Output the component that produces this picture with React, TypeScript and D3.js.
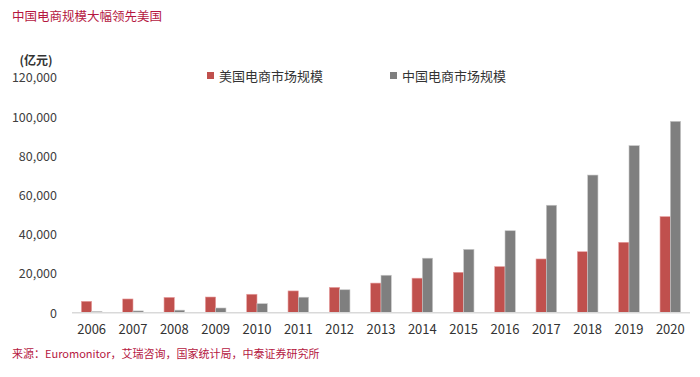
import React from "react";
import * as d3 from "d3";

const years = ["2006","2007","2008","2009","2010","2011","2012","2013","2014","2015","2016","2017","2018","2019","2020"];
const usValues = [5600, 6800, 7600, 7800, 9200, 10900, 12700, 14900, 17400, 20400, 23300, 27200, 30900, 35700, 48800];
const cnValues = [400, 700, 1100, 2200, 4400, 7700, 11500, 18900, 27600, 32100, 41600, 54600, 70000, 85000, 97400];
const yTicks = [0, 20000, 40000, 60000, 80000, 100000, 120000];
const seriesNames = ["美国电商市场规模", "中国电商市场规模"];
const colors = ["#c0504d", "#7f7f7f"];

const W = 700, H = 377;
const font = "'Noto Sans CJK SC', 'Noto Sans', sans-serif";

export default function App() {
  const x = d3.scaleBand<string>().domain(years).range([71, 691]).paddingInner(0.5).paddingOuter(0.25);
  const y = d3.scaleLinear().domain([0, 120000]).range([312.3, 77]);
  const bw = 10.3;
  const fmt = d3.format(",");
  return (
    <svg width={W} height={H} style={{ position: "absolute", left: 0, top: 0, background: "#fff" }} fontFamily={font}>
      <text x={12} y={21} fontSize={12.5} fill="#b5173f">中国电商规模大幅领先美国</text>
      <text x={36} y={65} fontSize={12} fontWeight="bold" fill="#333" textAnchor="middle">(亿元)</text>
      {yTicks.map(t => (
        <text key={t} x={57} y={y(t) + 1} dy="0.35em" fontSize={12.5} fill="#404040" textAnchor="end">{fmt(t)}</text>
      ))}
      {years.map((yr, i) => {
        const cx = (x(yr) as number) + x.bandwidth() / 2;
        return (
          <g key={yr}>
            <rect x={cx - bw} y={y(usValues[i])} width={bw} height={y(0) - y(usValues[i])} fill={colors[0]} stroke="#e8a0a0" strokeWidth={0.6} />
            <rect x={cx} y={y(cnValues[i])} width={bw} height={y(0) - y(cnValues[i])} fill={colors[1]} stroke="#c8c8c8" strokeWidth={0.6} />
            <text x={cx} y={334} fontSize={13} fill="#333" textAnchor="middle">{yr}</text>
          </g>
        );
      })}
      <line x1={72} x2={690} y1={y(0) + 0.5} y2={y(0) + 0.5} stroke="#d9d9d9" strokeWidth={1.5} />
      {seriesNames.map((s, i) => {
        const lx = i === 0 ? 207 : 390;
        return (
          <g key={s}>
            <rect x={lx} y={72} width={7} height={7} fill={colors[i]} />
            <text x={lx + 12} y={76} dy="0.35em" fontSize={13} fill="#333">{s}</text>
          </g>
        );
      })}
      <text x={12} y={358} fontSize={11} fill="#b5173f">来源：Euromonitor，艾瑞咨询，国家统计局，中泰证券研究所</text>
    </svg>
  );
}
